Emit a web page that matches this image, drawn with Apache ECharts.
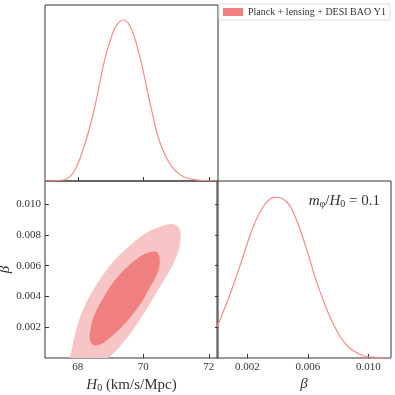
<!DOCTYPE html>
<html>
<head>
<meta charset="utf-8">
<script src="https://cdn.jsdelivr.net/npm/echarts@6/dist/echarts.min.js"></script>
<style>
  html, body { margin: 0; padding: 0; background: #fff; }
  #main { width: 395px; height: 395px; }
</style>
</head>
<body>
<div id="main"></div>
<script>
    var myChart = echarts.init(document.getElementById('main'));

    // 1D posterior of H0 (normalised to peak 1)
    var h0Grid = [67.0, 67.455, 67.76, 67.96, 68.16, 68.37, 68.52, 68.67, 68.82, 68.98, 69.13, 69.28, 69.40,
        69.53, 69.69, 69.84, 69.99, 70.14, 70.30, 70.45, 70.60, 70.80, 71.01, 71.21, 71.41, 71.8, 72.28];
    var h0Density = [0, 0.004, 0.027, 0.089, 0.193, 0.337, 0.462, 0.607, 0.752, 0.865, 0.948, 0.990, 1.0,
        0.983, 0.917, 0.814, 0.689, 0.545, 0.400, 0.275, 0.193, 0.110, 0.058, 0.029, 0.014, 0.003, 0];

    // 1D posterior of beta
    var betaGrid = [0, 0.00028, 0.00072, 0.00116, 0.00161, 0.00204, 0.00249, 0.00293, 0.00337, 0.00393,
        0.00437, 0.00481, 0.00525, 0.00569, 0.00614, 0.00658, 0.00702, 0.00746, 0.00801, 0.00857,
        0.00912, 0.00967, 0.01045, 0.0115];
    var betaDensity = [0.195, 0.257, 0.361, 0.475, 0.599, 0.724, 0.838, 0.921, 0.977, 1.0,
        0.989, 0.948, 0.859, 0.745, 0.610, 0.475, 0.361, 0.257, 0.154, 0.081,
        0.039, 0.014, 0.004, 0];

    // 2D contours (95% outer, 68% inner), H0 / beta pairs
    var outerH0 = [70.96, 71.13, 71.09, 70.90, 70.60, 70.30, 69.99, 69.64, 69.28, 68.98, 68.65, 68.15,
        67.75, 67.64, 67.76, 67.91, 68.06, 68.27, 68.47, 68.77, 69.08, 69.49, 69.99, 70.50];
    var outerBeta = [0.00868, 0.00820, 0.00712, 0.00604, 0.00495, 0.00388, 0.00279, 0.00171, 0.00073, 0.00008,
        -0.0006, -0.0013, -0.0012, -0.0005, 0.00008, 0.00149, 0.00258, 0.00366, 0.00442, 0.00539,
        0.00625, 0.00712, 0.00799, 0.00853];
    var innerH0 = [70.40, 70.50, 70.45, 70.19, 69.89, 69.49, 69.08, 68.75, 68.50, 68.38, 68.37, 68.47,
        68.77, 69.18, 69.69, 70.09];
    var innerBeta = [0.00690, 0.00647, 0.00560, 0.00453, 0.00344, 0.00236, 0.00149, 0.00095, 0.00082, 0.00110,
        0.00160, 0.00258, 0.00388, 0.00518, 0.00625, 0.00680];

    var h0Ticks = [68, 70, 72];
    var betaTicksY = [0.002, 0.004, 0.006, 0.008, 0.010];
    var betaTicksX = [0.002, 0.006, 0.010];

    var seriesName = 'Planck + lensing + DESI BAO Y1';
    var legendColor = '#f08080';
    var lineColor = '#f58a8a';
    var serif = 'Liberation Serif';

    function zip(a, b) {
        return a.map(function (v, i) { return [v, b[i]]; });
    }

    var tickStyle = { color: '#333', width: 1 };
    var labelStyle = { fontFamily: serif, fontSize: 11, color: '#333', margin: 4 };
    var nameRich = {
        i: { fontFamily: serif, fontStyle: 'italic', fontWeight: 'normal', fontSize: 15, color: '#333' },
        s: { fontFamily: serif, fontWeight: 'normal', fontSize: 10, color: '#333', verticalAlign: 'bottom', padding: [6, 0, 0, 0] },
        t: { fontFamily: serif, fontWeight: 'normal', fontSize: 15, color: '#333' }
    };

    function contour(h, b, color) {
        var pts = zip(h, b);
        return function (params, api) {
            return {
                type: 'polygon',
                shape: {
                    points: pts.map(function (p) { return api.coord(p); }),
                    smooth: 0.35
                },
                style: { fill: color }
            };
        };
    }

    var gridBase = { show: true, borderColor: '#333', borderWidth: 1, containLabel: false, outerBoundsMode: 'none' };

    option = {
        backgroundColor: '#fff',
        animation: false,
        legend: {
            left: 219,
            top: 4,
            orient: 'horizontal',
            icon: 'rect',
            itemWidth: 20,
            itemHeight: 8,
            itemGap: 4,
            padding: [3, 4, 3, 4],
            borderColor: '#ddd',
            borderWidth: 1,
            borderRadius: 2,
            textStyle: { fontFamily: serif, fontSize: 10, color: '#333' },
            data: [{ name: seriesName, itemStyle: { color: legendColor } }]
        },
        title: {
            right: 10,
            top: 188,
            text: '{i|m}{s|φ}{t|/}{i|H}{s|0}{t| = 0.1}',
            textStyle: { fontWeight: 'normal', rich: nameRich }
        },
        grid: [
            Object.assign({ left: 45, top: 5, width: 173, height: 176 }, gridBase),
            Object.assign({ left: 45, top: 181, width: 173, height: 177 }, gridBase),
            Object.assign({ left: 217, top: 181, width: 174, height: 177 }, gridBase)
        ],
        xAxis: [
            {
                gridIndex: 0, type: 'value', min: 67, max: 72.28,
                axisLine: { show: false }, splitLine: { show: false },
                axisTick: { inside: true, length: 4, customValues: h0Ticks, lineStyle: tickStyle },
                axisLabel: { show: false }
            },
            {
                gridIndex: 1, type: 'value', min: 67, max: 72.28,
                axisLine: { show: false }, splitLine: { show: false },
                axisTick: { inside: true, length: 4, customValues: h0Ticks, lineStyle: tickStyle },
                axisLabel: Object.assign({ customValues: h0Ticks }, labelStyle),
                name: '{i|H}{s|0}{t| (km/s/Mpc)}',
                nameLocation: 'middle',
                nameGap: 19,
                nameTextStyle: { rich: nameRich }
            },
            {
                gridIndex: 2, type: 'value', min: 0, max: 0.0115,
                axisLine: { show: false }, splitLine: { show: false },
                axisTick: { inside: true, length: 4, customValues: betaTicksX, lineStyle: tickStyle },
                axisLabel: Object.assign({ customValues: betaTicksX, formatter: function (v) { return v.toFixed(3); } }, labelStyle),
                name: '{i|β}',
                nameLocation: 'middle',
                nameGap: 19,
                nameTextStyle: { rich: nameRich }
            }
        ],
        yAxis: [
            {
                gridIndex: 0, type: 'value', min: 0, max: 1.093,
                axisLine: { show: false }, splitLine: { show: false },
                axisTick: { show: false }, axisLabel: { show: false }
            },
            {
                gridIndex: 1, type: 'value', min: 0, max: 0.0115,
                axisLine: { show: false }, splitLine: { show: false },
                axisTick: { inside: true, length: 4, customValues: betaTicksY, lineStyle: tickStyle },
                axisLabel: Object.assign({ customValues: betaTicksY, formatter: function (v) { return v.toFixed(3); } }, labelStyle),
                name: '{i|β}',
                nameLocation: 'middle',
                nameRotate: 90,
                nameGap: 30,
                nameTextStyle: { rich: nameRich }
            },
            {
                gridIndex: 1, type: 'value', min: 0, max: 0.0115, position: 'right',
                axisLine: { show: false }, splitLine: { show: false },
                axisTick: { inside: true, length: 3, customValues: betaTicksY, lineStyle: tickStyle },
                axisLabel: { show: false }
            },
            {
                gridIndex: 2, type: 'value', min: 0, max: 1.101,
                axisLine: { show: false }, splitLine: { show: false },
                axisTick: { show: false }, axisLabel: { show: false }
            }
        ],
        series: [
            {
                type: 'line', xAxisIndex: 0, yAxisIndex: 0,
                data: zip(h0Grid, h0Density),
                smooth: 0.5, symbol: 'none',
                lineStyle: { color: lineColor, width: 1.2 }
            },
            {
                name: seriesName,
                type: 'custom', xAxisIndex: 1, yAxisIndex: 1,
                clip: true,
                data: [0],
                itemStyle: { color: legendColor },
                renderItem: contour(outerH0, outerBeta, '#f7c5c5')
            },
            {
                type: 'custom', xAxisIndex: 1, yAxisIndex: 1,
                clip: true,
                data: [0],
                renderItem: contour(innerH0, innerBeta, '#f08080')
            },
            {
                type: 'line', xAxisIndex: 2, yAxisIndex: 3,
                data: zip(betaGrid, betaDensity),
                smooth: 0.5, symbol: 'none',
                lineStyle: { color: lineColor, width: 1.2 }
            }
        ]
    };

    myChart.setOption(option);
</script>
</body>
</html>
